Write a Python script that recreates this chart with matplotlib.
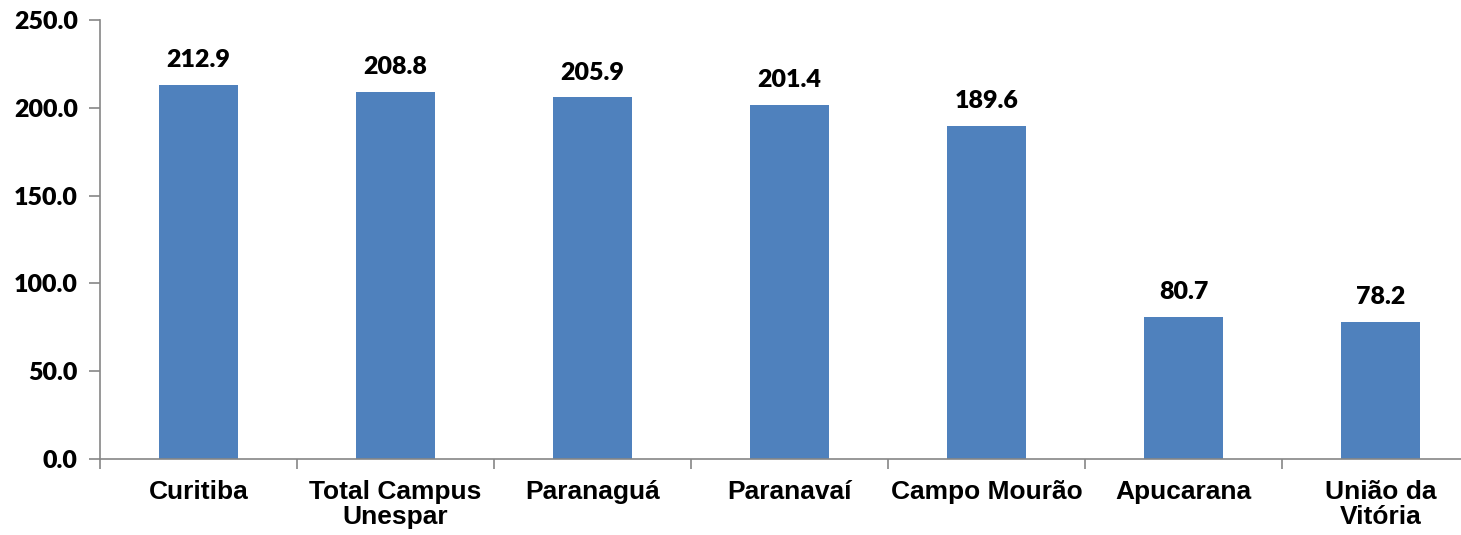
import numpy as np
import matplotlib
matplotlib.use("Agg")
import matplotlib.pyplot as plt

categories = ["Curitiba", "Total Campus\nUnespar", "Paranaguá", "Paranavaí",
              "Campo Mourão", "Apucarana", "União da\nVitória"]
values = [212.9, 208.8, 205.9, 201.4, 189.6, 80.7, 78.2]
yticks = [0, 50, 100, 150, 200, 250]

BAR_COLOR = "#4F81BD"
AXIS_COLOR = "#868686"
NUM_FONT = "Lato"
CAT_FONT = "Liberation Sans"

fig = plt.figure(figsize=(14.61, 5.35), dpi=100)
# eixo passa um pouco da borda direita, como no original
ax = fig.add_axes([100 / 1461, 1 - 459 / 535, 1379 / 1461, 439 / 535])

x = np.arange(len(categories))
ax.bar(x, values, width=0.40, color=BAR_COLOR, zorder=2)

for xi, v in zip(x, values):
    ax.annotate(f"{v:.1f}", (xi, v), xytext=(0, 10), textcoords="offset points",
                ha="center", va="bottom", fontsize=18, fontweight="heavy",
                family=NUM_FONT)

ax.set_xlim(-0.5, len(categories) - 0.5)
ax.set_ylim(0, 250)

ax.set_yticks(yticks)
ax.set_yticklabels([f"{t:.1f}" for t in yticks], fontsize=18, fontweight="heavy",
                   family=NUM_FONT)
ax.tick_params(axis="y", length=8, width=1.2, color=AXIS_COLOR, pad=8)

# marcas nas divisas, rotulos no centro
ax.set_xticks(np.arange(len(categories) + 1) - 0.5)
ax.set_xticklabels([])
ax.tick_params(axis="x", which="major", length=7, width=1.2, color=AXIS_COLOR)
ax.set_xticks(x, minor=True)
ax.set_xticklabels(categories, minor=True, fontsize=19, fontweight="bold",
                   family=CAT_FONT, linespacing=1.05)
ax.tick_params(axis="x", which="minor", length=0, pad=15)

for side in ("top", "right"):
    ax.spines[side].set_visible(False)
for side in ("left", "bottom"):
    ax.spines[side].set_color(AXIS_COLOR)
    ax.spines[side].set_linewidth(1.2)

fig.savefig("out.png", dpi=100)
